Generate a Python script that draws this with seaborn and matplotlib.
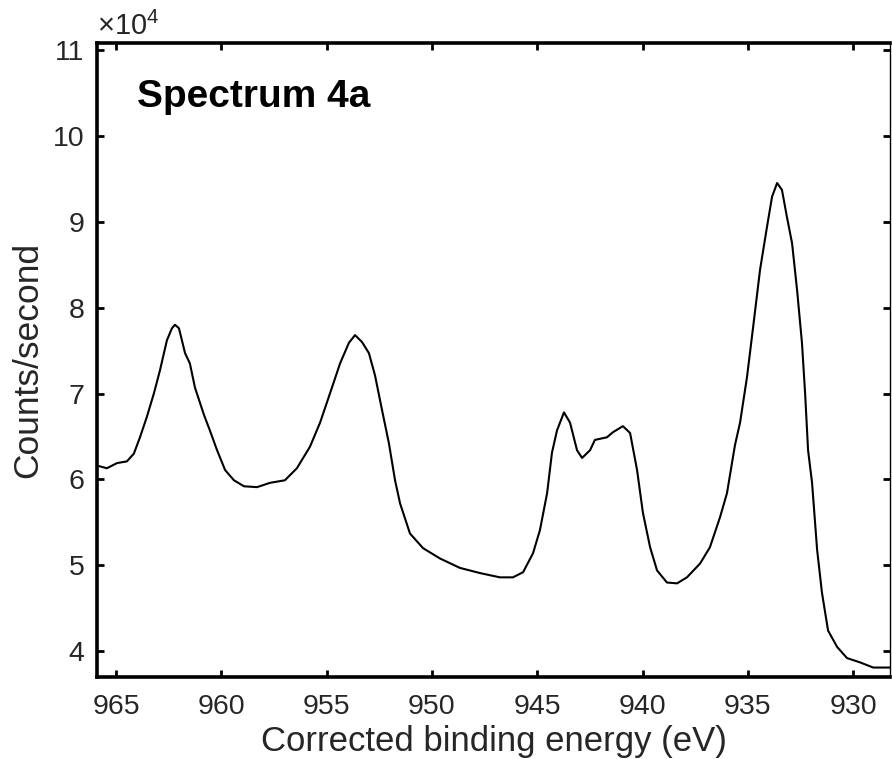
import numpy as np
import pandas as pd
import matplotlib
matplotlib.use("Agg")
import matplotlib.pyplot as plt
import seaborn as sns
from matplotlib.ticker import FuncFormatter, FixedLocator

# Binding energy (eV) and counts/second
energy = [965.81, 965.43, 964.95, 964.48, 964.15, 963.86, 963.53, 963.20, 962.91,
          962.58, 962.34, 962.20, 962.01, 961.72, 961.49, 961.25, 960.82, 960.54,
          960.20, 959.82, 959.40, 958.92, 958.30, 957.69, 956.98, 956.41, 955.79,
          955.31, 954.84, 954.36, 953.94, 953.65, 953.32, 952.99, 952.70, 952.37,
          952.04, 951.75, 951.51, 951.04, 950.42, 949.62, 948.67, 947.72, 946.77,
          946.15, 945.67, 945.20, 944.87, 944.53, 944.30, 944.06, 943.73, 943.44,
          943.11, 942.87, 942.49, 942.26, 941.69, 941.40, 940.93, 940.59, 940.26,
          939.98, 939.64, 939.31, 938.84, 938.36, 937.89, 937.27, 936.80, 936.32,
          935.99, 935.61, 935.37, 935.04, 934.75, 934.42, 934.09, 933.85, 933.61,
          933.38, 933.14, 932.90, 932.66, 932.43, 932.28, 932.14, 931.95, 931.71,
          931.48, 931.19, 930.76, 930.29, 929.67, 929.05, 928.25]
counts = [61550, 61300, 61900, 62100, 63000, 64900, 67300, 70000, 72700,
          76200, 77600, 78000, 77600, 74700, 73500, 70700, 67500, 65700,
          63400, 61100, 59900, 59200, 59100, 59600, 59900, 61300, 63800,
          66600, 70000, 73500, 75900, 76800, 76000, 74700, 72100, 68100,
          64200, 59900, 57200, 53700, 52000, 50800, 49700, 49100, 48600,
          48600, 49200, 51400, 54100, 58400, 63100, 65700, 67800, 66600,
          63400, 62500, 63400, 64600, 64900, 65500, 66200, 65400, 61100,
          56100, 52100, 49400, 48000, 47900, 48600, 50200, 52100, 55600,
          58400, 64000, 66600, 71900, 77700, 84400, 89400, 92900, 94500,
          93700, 90500, 87500, 82000, 75900, 70000, 63400, 59600, 51800,
          46800, 42400, 40500, 39200, 38700, 38100, 38100]

y_ticks = [4e4, 5e4, 6e4, 7e4, 8e4, 9e4, 10e4, 11e4]
x_ticks = [965, 960, 955, 950, 945, 940, 935, 930]

df = pd.DataFrame({"energy": energy, "counts": counts})

sns.set_style("ticks")
plt.rcParams["font.family"] = ["Liberation Sans", "DejaVu Sans"]
plt.rcParams["mathtext.fontset"] = "custom"
plt.rcParams["mathtext.rm"] = "Liberation Sans"
plt.rcParams["mathtext.it"] = "Liberation Sans"

fig = plt.figure(figsize=(8.92, 7.59), dpi=100)
ax = fig.add_axes([97 / 892, 1 - 677 / 759, (890 - 97) / 892, (677 - 43) / 759])

sns.lineplot(data=df, x="energy", y="counts", ax=ax, color="black",
             linewidth=1.5, estimator=None, sort=False)

ax.set_xlim(965.9, 928.25)
ax.set_ylim(3.70e4, 11.08e4)
ax.xaxis.set_major_locator(FixedLocator(x_ticks))
ax.yaxis.set_major_locator(FixedLocator(y_ticks))
ax.yaxis.set_major_formatter(FuncFormatter(lambda v, p: f"{v / 1e4:g}"))

ax.tick_params(direction="in", length=5, width=2, top=True, right=True,
               labelsize=20.5, colors="black", labelcolor="#262626")
ax.tick_params(axis="x", pad=12)
ax.tick_params(axis="y", pad=9)
for side in ["left", "bottom", "top"]:
    ax.spines[side].set_linewidth(2.6)
    ax.spines[side].set_color("black")
ax.spines["right"].set_linewidth(1.0)
ax.spines["right"].set_color("black")

ax.set_xlabel("Corrected binding energy (eV)", fontsize=25, color="#262626", labelpad=4)
ax.set_ylabel("Counts/second", fontsize=25.5, color="#262626", labelpad=6)

ax.text(0.0, 1.003, r"$\times10^{4}$", transform=ax.transAxes, fontsize=21,
        color="#262626", ha="left", va="bottom")
ax.text(0.05, 0.915, "Spectrum 4a", transform=ax.transAxes, fontsize=28,
        fontweight="bold", color="black", ha="left", va="center")

fig.savefig("out.png", dpi=100)
